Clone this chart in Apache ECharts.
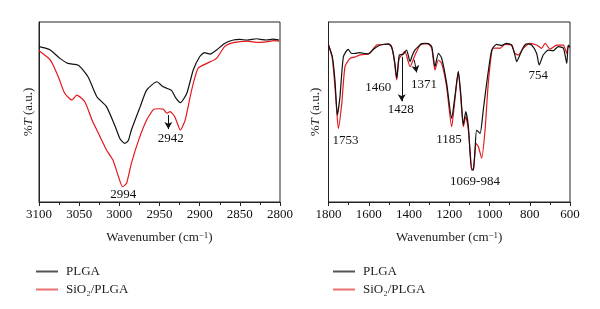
<!DOCTYPE html>
<html>
<head>
<meta charset="utf-8">
<script src="https://cdn.jsdelivr.net/npm/echarts@6/dist/echarts.min.js"></script>
<style>
  html,body{margin:0;padding:0;background:#fff;}
  #chart{width:600px;height:309px;}
</style>
</head>
<body>
<div id="chart"></div>
<script>
// left panel, 3100-2800 cm-1
var wnLeftPLGA=[3100,3092,3086,3074,3064,3051,3039,3028,3016,3005,2999,2993,2989,2985,2974,2966,2953,2947,2941,2935,2930,2924,2916,2908,2900,2894,2887,2879,2869,2858,2850,2841,2829,2822,2817,2809,2801];
var tLeftPLGA=[86.3,85.5,84.4,79.8,77,76,69.6,58.5,53,41.8,35,32.6,34,40,53,62.2,66.8,64.5,63.2,62,58,55.2,60.4,73.3,80.7,83,82.2,84.4,88.1,90,90.3,90,90.7,90.2,90,90.5,90];
var wnLeftSi=[3100,3086,3076,3068,3059,3053,3043,3034,3024,3016,3008,3001,2996,2991,2985,2976,2966,2957,2950,2945,2941,2937,2931,2924,2918,2910,2902,2891,2879,2869,2858,2841,2830,2817,2808,2801];
var tLeftSi=[84,78.9,69.6,60.4,56.7,59.4,55.7,45.6,36.3,28.9,23.3,14,8.5,10.4,21.5,34.4,45.6,51.5,51.8,51.5,49.3,50.2,47.4,40,45.6,62.2,74.3,77,79.8,86.3,88.5,89.4,88.7,89,89.6,89.4];

// right panel, 1800-600 cm-1
var wnRightPLGA=[1800,1781,1768,1756,1743,1726,1702,1685,1668,1645,1620,1602,1575,1553,1530,1503,1486,1470,1461,1448,1430,1412,1395,1382,1370,1354,1337,1320,1304,1287,1271,1254,1238,1213,1188,1172,1155,1143,1130,1118,1105,1089,1080,1072,1064,1047,1031,1014,989,965,940,915,890,874,865,849,832,816,791,766,753,733,708,685,658,633,616,609,600];
var tRightPLGA=[87.2,80.7,67.8,48.3,58.5,80.7,84.8,82.5,82.6,83,82.5,82.2,85,86.7,87.5,87.8,86,77,68.7,81.7,82,84.4,78,82,84.5,86.3,88,88.2,88,86.3,75.2,82.6,80,66,46.5,58.5,72.4,60.4,42.8,50.2,41.8,17.8,18,28.9,40,38.1,51.1,66,84.4,87.6,87,88.1,87.2,81.7,78,81.7,86,87.8,87.2,82.6,76.1,81.7,84.4,84,86.3,85.5,77,87.2,86];
var wnRightSi=[1800,1781,1764,1751,1734,1718,1693,1670,1644,1620,1594,1561,1530,1495,1478,1461,1450,1436,1420,1395,1370,1345,1320,1304,1287,1271,1254,1238,1213,1188,1172,1155,1143,1130,1118,1105,1089,1080,1067,1055,1039,1022,1006,984,965,948,923,890,874,857,832,799,766,741,724,699,666,633,616,609,600];
var tRightSi=[87.2,79.8,58.5,40.9,54.8,75.2,79.8,80.5,81.7,82,82.8,87.2,87.5,87.6,82.6,67.8,79.3,81.7,83.5,75.2,81.7,87.2,87.8,87.8,85.4,73.3,78.9,77,64,41.8,56.7,72.4,58.5,41.8,47.4,40,18.7,17.8,32.6,30.7,24.3,40,66,85.4,85.5,85.4,87.6,87.2,82.6,81.7,85.4,88.1,87.2,85.4,88.1,85,87.2,87.2,82.6,86.3,86];

// peak labels [text, wavenumber, y]
var leftLabels=[["2994",2995,4],["2942",2936,35]];
var rightLabels=[["1753",1715,34.4],["1460",1553,63.7],["1428",1441,51.1],["1371",1326,65],["1185",1201,34.8],["1069-984",1072,11.3],["754",758,70]];
// arrows [[wn,y] from, [wn,y] to]
var leftArrows=[[[2939,48.3],[2939,40.5]]];
var rightArrows=[[[1436,80.7],[1436,56]],[[1374,79],[1362,72]]];

var names=["PLGA","SiO₂/PLGA"];
var colors=["#111111","#e3171d"];
var font="Liberation Serif";

function pairs(xs,ys){return xs.map((x,i)=>[x,ys[i]]);}

function markP(list){
  return {
    silent:true,
    symbol:"rect",
    symbolSize:1,
    itemStyle:{color:"rgba(0,0,0,0)"},
    label:{show:true,position:"inside",color:"#111",fontFamily:font,fontSize:13,formatter:"{b}"},
    data:list.map((l)=>({name:l[0],coord:[l[1],l[2]]}))
  };
}
function markL(list){
  return {
    silent:true,
    symbol:["none","arrow"],
    symbolSize:[6,7],
    label:{show:false},
    lineStyle:{color:"#111",width:1,type:"solid"},
    data:list.map((a)=>[{coord:a[0]},{coord:a[1]}])
  };
}

function xAx(idx,min,max,interval){
  return {
    gridIndex:idx,type:"value",min:min,max:max,interval:interval,inverse:true,
    name:"Wavenumber (cm{sup|−1})",nameLocation:"middle",nameGap:29,
    nameTextStyle:{color:"#222",fontFamily:font,fontSize:13,rich:{sup:{fontSize:9,fontFamily:font,color:"#222",verticalAlign:"top"}}},
    axisLine:{lineStyle:{color:"#222",width:1}},
    axisTick:{length:4,lineStyle:{color:"#222"}},
    minorTick:{show:true,splitNumber:2,length:3,lineStyle:{color:"#222"}},
    axisLabel:{color:"#111",fontFamily:font,fontSize:13,margin:6,formatter:(v)=>String(v)},
    splitLine:{show:false}
  };
}
function yAx(idx,gap){
  return {
    gridIndex:idx,type:"value",min:0,max:100,
    name:"%{i|T} (a.u.)",nameLocation:"middle",nameGap:gap,nameRotate:90,
    nameTextStyle:{color:"#222",fontFamily:font,fontSize:13,rich:{i:{fontStyle:"italic",fontFamily:font,fontSize:13,color:"#222"}}},
    axisLine:{show:true,lineStyle:{color:"#222",width:1}},
    axisTick:{show:false},axisLabel:{show:false},splitLine:{show:false}
  };
}
function legendAt(left){
  return {
    left:left,top:260,orient:"vertical",itemGap:5,itemWidth:22,itemHeight:2,icon:"rect",
    selectedMode:false,
    textStyle:{color:"#222",fontFamily:font,fontSize:13,padding:[0,0,0,3]},
    data:[{name:names[0],itemStyle:{color:"#555"}},{name:names[1],itemStyle:{color:"#e87070"}}]
  };
}
function lineSeries(name,xi,data,color,extra){
  var s={name:name,type:"line",xAxisIndex:xi,yAxisIndex:xi,data:data,smooth:0.2,symbol:"none",
    lineStyle:{color:color,width:1.2},itemStyle:{color:color},z:color===colors[0]?3:2};
  return Object.assign(s,extra||{});
}

var chart=echarts.init(document.getElementById("chart"),null,{renderer:"canvas"});
var option={
  animation:false,
  grid:[
    {left:39,top:22,width:241,height:180,show:true,borderColor:"#222",borderWidth:1,backgroundColor:"transparent"},
    {left:328.5,top:22,width:241.5,height:180,show:true,borderColor:"#222",borderWidth:1,backgroundColor:"transparent"}
  ],
  xAxis:[xAx(0,2800,3100,50),xAx(1,600,1800,200)],
  yAxis:[yAx(0,4),yAx(1,6)],
  legend:[legendAt(31),legendAt(328)],
  series:[
    lineSeries(names[0],0,pairs(wnLeftPLGA,tLeftPLGA),colors[0]),
    lineSeries(names[1],0,pairs(wnLeftSi,tLeftSi),colors[1],{markPoint:markP(leftLabels),markLine:markL(leftArrows)}),
    lineSeries(names[0],1,pairs(wnRightPLGA,tRightPLGA),colors[0]),
    lineSeries(names[1],1,pairs(wnRightSi,tRightSi),colors[1],{markPoint:markP(rightLabels),markLine:markL(rightArrows)})
  ]
};
chart.setOption(option);
</script>
</body>
</html>
